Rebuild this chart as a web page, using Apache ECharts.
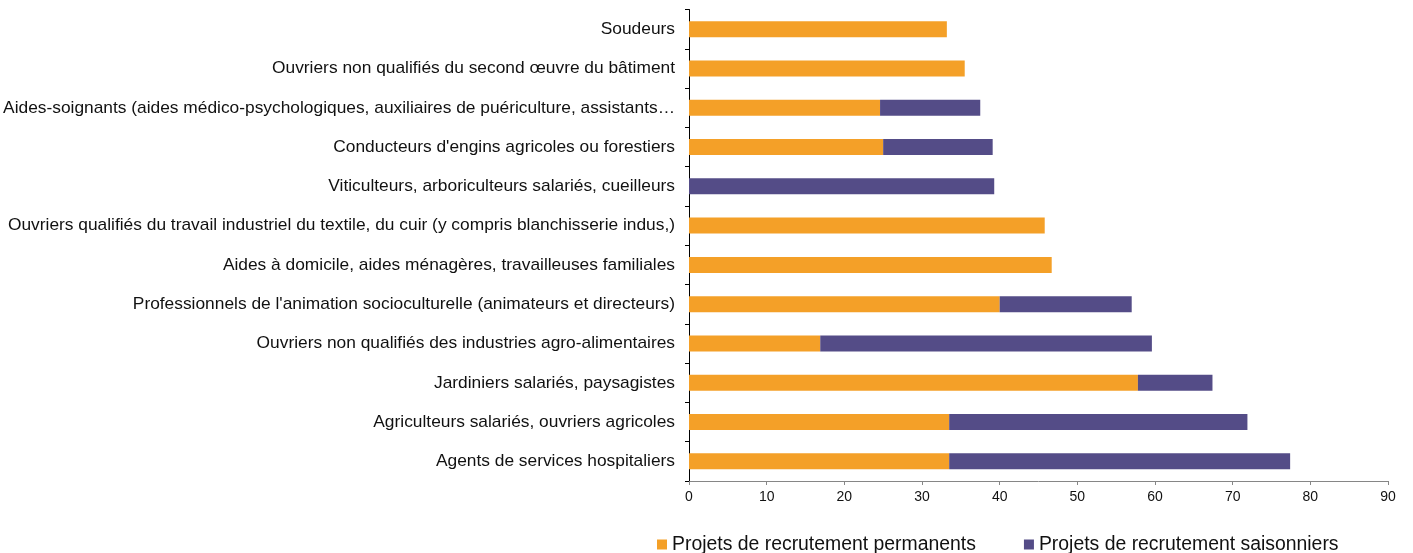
<!DOCTYPE html>
<html>
<head>
<meta charset="utf-8">
<script src="https://cdn.jsdelivr.net/npm/echarts@6/dist/echarts.min.js"></script>
<style>html,body{margin:0;padding:0;background:#fff}#c{width:1413px;height:553px}</style>
</head>
<body>
<div id="c"></div>
<script>
const categories = [
  "Soudeurs",
  "Ouvriers non qualifiés du second œuvre du bâtiment",
  "Aides-soignants (aides médico-psychologiques, auxiliaires de puériculture, assistants…",
  "Conducteurs d'engins agricoles ou forestiers",
  "Viticulteurs, arboriculteurs salariés, cueilleurs",
  "Ouvriers qualifiés du travail industriel du textile, du cuir (y compris blanchisserie indus,)",
  "Aides à domicile, aides ménagères, travailleuses familiales",
  "Professionnels de l'animation socioculturelle (animateurs et directeurs)",
  "Ouvriers non qualifiés des industries agro-alimentaires",
  "Jardiniers salariés, paysagistes",
  "Agriculteurs salariés, ouvriers agricoles",
  "Agents de services hospitaliers"
];
const permanents = [33.2, 35.5, 24.6, 25.0, 0, 45.8, 46.7, 40.0, 16.9, 57.8, 33.5, 33.5];
const saisonniers = [0, 0, 12.9, 14.1, 39.3, 0, 0, 17.0, 42.7, 9.6, 38.4, 43.9];
const xTicks = [0, 10, 20, 30, 40, 50, 60, 70, 80, 90];

const chart = echarts.init(document.getElementById('c'), null, {renderer: 'canvas'});
chart.setOption({
  animation: false,
  textStyle: {fontFamily: 'Liberation Sans, Arial, sans-serif'},
  grid: {left: 689, right: 25, top: 9.5, bottom: 72, containLabel: false},
  legend: {
    left: 652, top: 530,
    itemWidth: 10, itemHeight: 10, itemGap: 48,
    icon: 'rect',
    textStyle: {fontSize: 19.4, color: '#111', fontFamily: 'Liberation Sans, Arial, sans-serif'},
    data: ['Projets de recrutement permanents', 'Projets de recrutement saisonniers']
  },
  xAxis: {
    type: 'value', min: xTicks[0], max: xTicks[xTicks.length - 1], interval: 10,
    splitLine: {show: false},
    axisLine: {show: true, lineStyle: {color: '#868686'}},
    axisTick: {show: true, length: 4, lineStyle: {color: '#868686'}},
    axisLabel: {fontSize: 14, color: '#111', margin: 9}
  },
  yAxis: {
    type: 'category', data: categories, inverse: true,
    axisLine: {show: true, lineStyle: {color: '#000'}},
    axisTick: {show: true, length: 4, lineStyle: {color: '#000'}},
    axisLabel: {fontSize: 17.35, color: '#111', margin: 14}
  },
  series: [
    {name: 'Projets de recrutement permanents', type: 'bar', stack: 'a', data: permanents,
     itemStyle: {color: '#F4A028'}, barWidth: 16},
    {name: 'Projets de recrutement saisonniers', type: 'bar', stack: 'a', data: saisonniers,
     itemStyle: {color: '#544C87'}, barWidth: 16}
  ]
});
</script>
</body>
</html>
